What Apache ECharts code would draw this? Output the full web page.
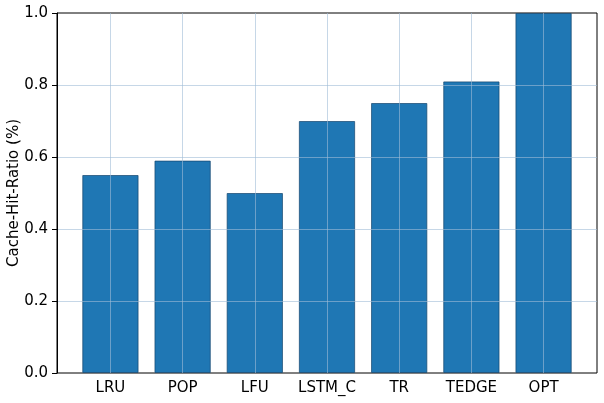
<!DOCTYPE html>
<html>
<head>
<meta charset="utf-8">
<script src="https://cdn.jsdelivr.net/npm/echarts@6/dist/echarts.min.js"></script>
<style>
  html, body { margin: 0; padding: 0; background: #fff; }
  #chart { width: 604px; height: 403px; }
</style>
</head>
<body>
<div id="chart"></div>
<script>
// 各算法名称
const categories = ['LRU', 'POP', 'LFU', 'LSTM_C', 'TR', 'TEDGE', 'OPT']
// 缓存命中率
const hitRatio = [0.55, 0.59, 0.50, 0.70, 0.75, 0.81, 1.00]
// y轴刻度
const yTicks = [0, 0.2, 0.4, 0.6, 0.8, 1.0]

const font = 'DejaVu Sans'
const gridColor = 'rgba(160, 188, 215, 0.6)'

// 外框区域 (与 matplotlib 坐标区一致)
const frame = { left: 57, right: 7, top: 13, bottom: 30 }
// 柱子区域: 左右各留 0.24 个类目宽度的边距
const unit = (604 - frame.left - frame.right) / (categories.length - 1 + 0.8 + 0.68)
const pad = (0.74 - 0.5) * unit

const chart = echarts.init(document.getElementById('chart'))
chart.setOption({
  animation: false,
  textStyle: { fontFamily: font },
  grid: [
    {
      show: true,
      outerBoundsMode: 'none',
      containLabel: false,
      left: frame.left, right: frame.right, top: frame.top, bottom: frame.bottom,
      borderColor: '#000', borderWidth: 1, backgroundColor: 'transparent',
    },
    {
      outerBoundsMode: 'none',
      containLabel: false,
      left: frame.left + pad, right: frame.right + pad, top: frame.top, bottom: frame.bottom,
    },
  ],
  xAxis: [
    { gridIndex: 0, type: 'value', min: 0, max: 1, show: false },
    {
      gridIndex: 1,
      type: 'category',
      data: categories,
      axisLine: { show: false },
      axisTick: { alignWithLabel: true, interval: 0, length: 5, lineStyle: { color: '#000' } },
      axisLabel: { interval: 0, hideOverlap: false, color: '#000', fontSize: 15, fontFamily: font, margin: 8 },
      splitLine: { show: false },
    },
  ],
  yAxis: [
    {
      gridIndex: 0,
      type: 'value',
      min: yTicks[0],
      max: yTicks[yTicks.length - 1],
      interval: 0.2,
      z: 5,
      name: 'Cache-Hit-Ratio (%)',
      nameLocation: 'middle',
      nameGap: 35,
      nameMoveOverlap: false,
      nameTextStyle: { color: '#000', fontSize: 15, fontFamily: font },
      axisLine: { show: true, lineStyle: { color: '#000' } },
      axisTick: { show: true, length: 5, lineStyle: { color: '#000' } },
      axisLabel: {
        color: '#000', fontSize: 15, fontFamily: font, margin: 9,
        formatter: (v) => v.toFixed(1),
      },
      splitLine: {
        show: true, showMinLine: false, showMaxLine: false,
        lineStyle: { color: gridColor, width: 1 },
      },
    },
    { gridIndex: 1, type: 'value', min: 0, max: 1, show: false },
  ],
  series: [
    {
      type: 'bar',
      xAxisIndex: 1,
      yAxisIndex: 1,
      data: hitRatio,
      barWidth: '78%',
      itemStyle: { color: '#1f77b4', borderColor: 'rgba(20, 70, 110, 0.7)', borderWidth: 1 },
      markLine: {
        silent: true,
        symbol: 'none',
        label: { show: false },
        lineStyle: { color: gridColor, width: 1, type: 'solid' },
        data: categories.map((c) => ({ xAxis: c })),
      },
    },
  ],
})

window.onresize = () => chart.resize()
</script>
</body>
</html>
